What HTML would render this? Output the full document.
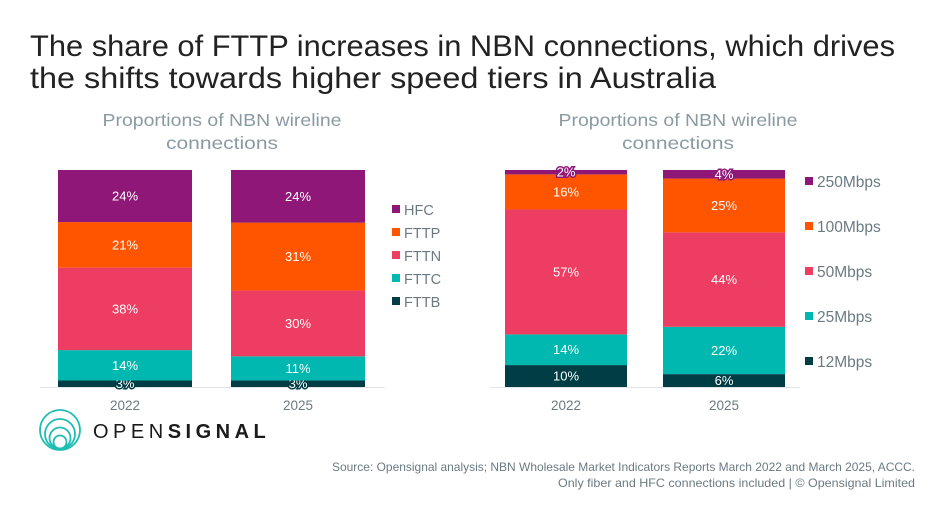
<!DOCTYPE html>
<html><head><meta charset="utf-8"><style>
body{margin:0;width:932px;height:513px;background:#fff;overflow:hidden;font-family:"Liberation Sans",sans-serif;}
svg{display:block}
</style></head><body>
<svg width="932" height="513">
<text x="30" y="56" font-size="30" fill="#222" textLength="865" lengthAdjust="spacingAndGlyphs">The share of FTTP increases in NBN connections, which drives</text>
<text x="30" y="88" font-size="30" fill="#222" textLength="686" lengthAdjust="spacingAndGlyphs">the shifts towards higher speed tiers in Australia</text>
<text x="222" y="126" font-size="17.5" fill="#8a9aa3" text-anchor="middle" textLength="239" lengthAdjust="spacingAndGlyphs">Proportions of NBN wireline</text>
<text x="222" y="149" font-size="17.5" fill="#8a9aa3" text-anchor="middle" textLength="112" lengthAdjust="spacingAndGlyphs">connections</text>
<text x="678" y="126" font-size="17.5" fill="#8a9aa3" text-anchor="middle" textLength="239" lengthAdjust="spacingAndGlyphs">Proportions of NBN wireline</text>
<text x="678" y="149" font-size="17.5" fill="#8a9aa3" text-anchor="middle" textLength="112" lengthAdjust="spacingAndGlyphs">connections</text>
<line x1="40" y1="387.5" x2="385" y2="387.5" stroke="#e3e6e8"/>
<line x1="490" y1="387.5" x2="800" y2="387.5" stroke="#e3e6e8"/>
<g id="left"></g><g id="right"></g>
<g fill="none" stroke="#1fbdb3" stroke-width="1.8">
<circle cx="60" cy="430" r="20"/><circle cx="60" cy="434" r="15"/><circle cx="60" cy="438" r="10.5"/><circle cx="60" cy="442" r="6.5"/>
</g>
<text x="93" y="438" font-size="20" fill="#1a1a1a" letter-spacing="4.5">OPEN<tspan font-weight="bold">SIGNAL</tspan></text>
<text x="915" y="471" font-size="12" fill="#6b7a82" text-anchor="end" textLength="583" lengthAdjust="spacingAndGlyphs">Source: Opensignal analysis; NBN Wholesale Market Indicators Reports March 2022 and March 2025, ACCC.</text>
<text x="915" y="487" font-size="12" fill="#6b7a82" text-anchor="end" textLength="357" lengthAdjust="spacingAndGlyphs">Only fiber and HFC connections included  | © Opensignal Limited</text>
</svg>
<script>
const years = ["2022","2025"];
const techSeries = ["FTTB","FTTC","FTTN","FTTP","HFC"];
const tech2022 = [3,14,38,21,24];
const tech2025 = [3,11,30,31,24];
const speedSeries = ["12Mbps","25Mbps","50Mbps","100Mbps","250Mbps"];
const speed2022 = [10,14,57,16,2];
const speed2025 = [6,22,44,25,4];
const colors = ["#003d45","#00b8b0","#ee3d62","#ff5500","#8e1777"];
const NS="http://www.w3.org/2000/svg";
function mk(t,a,p){const e=document.createElementNS(NS,t);for(const k in a)e.setAttribute(k,a[k]);p.appendChild(e);return e;}
function draw(gid,series,vals,barX,barW,legX,legY,legStep,prefix,legFs){
  const g=document.getElementById(gid);
  const top=170,bot=387;
  vals.forEach((arr,bi)=>{
    const sum=arr.reduce((a,b)=>a+b,0);
    const ys=v=>v/sum*(bot-top);
    let y=bot;
    arr.forEach((v,si)=>{
      const h=ys(v);y-=h;
      const r=mk("rect",{x:barX[bi],y:y,width:barW,height:h,fill:colors[si]},g);
      
      
      const t=mk("text",{x:barX[bi]+barW/2,y:y+h/2+4.5,"font-size":13,fill:"#fff","text-anchor":"middle"},g);
      if(h<14){t.setAttribute("stroke",colors[si]);t.setAttribute("stroke-width","3");t.setAttribute("paint-order","stroke");}
      t.textContent=v+"%";
      
      
    });
    const yl=mk("text",{x:barX[bi]+barW/2,y:410,"font-size":13.5,fill:"#6b7a82","text-anchor":"middle"},g);
    yl.textContent=years[bi];
    
    
  });
  for(let i=0;i<series.length;i++){
    const si=series.length-1-i;const y=legY+i*legStep;
    const sq=mk("rect",{x:legX,y:y-5,width:8,height:8,fill:colors[si]},g);
    
    
    const lt=mk("text",{x:legX+12,y:y+5,"font-size":legFs,fill:"#6b7a82"},g);
    lt.textContent=series[si];
    
    
  }
}
draw("left",techSeries,[tech2022,tech2025],[58,231],134,392,210,23,"tech",14.5);
draw("right",speedSeries,[speed2022,speed2025],[505,663],122,805,182,45,"speed",15.5);
</script>
</body></html>
